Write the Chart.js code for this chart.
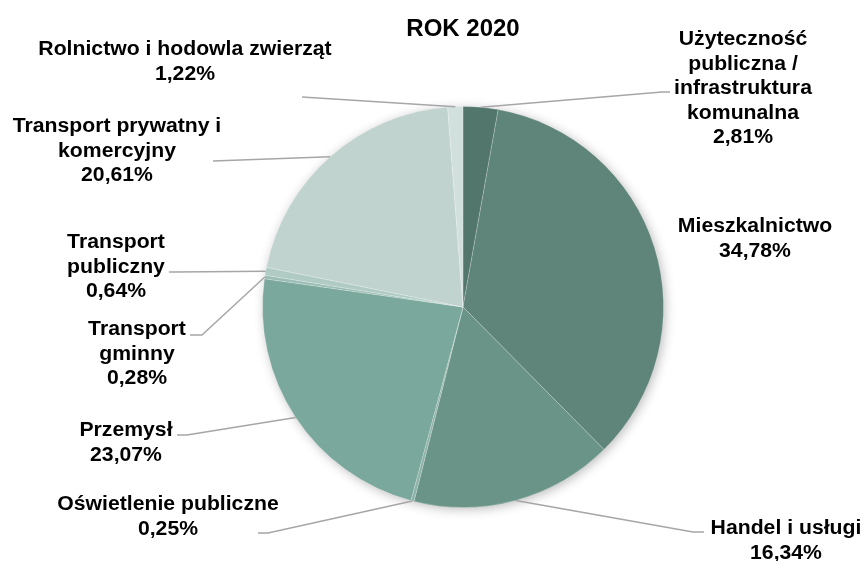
<!DOCTYPE html>
<html>
<head>
<meta charset="utf-8">
<script src="https://cdn.jsdelivr.net/npm/chart.js@4/dist/chart.umd.min.js"></script>
<style>
  body { margin: 0; background: #fff; }
  canvas { display: block; }
</style>
</head>
<body>
<canvas id="pie" width="863" height="561"></canvas>
<script>
// Data, clockwise from the top
var categories = [
    'Użyteczność publiczna / infrastruktura komunalna',
    'Mieszkalnictwo',
    'Handel i usługi',
    'Oświetlenie publiczne',
    'Przemysł',
    'Transport gminny',
    'Transport publiczny',
    'Transport prywatny i komercyjny',
    'Rolnictwo i hodowla zwierząt'
];
var shares = [2.81, 34.78, 16.34, 0.25, 23.07, 0.28, 0.64, 20.61, 1.22];
var sliceColors = ['#52766c', '#5f8479', '#6a9487', '#8cb1a6', '#7ba89c', '#9bbdb3', '#afcbc4', '#c1d3cf', '#d2e0dd'];

// How each label is broken into lines in the picture
var labelLines = [
    ['Użyteczność', 'publiczna /', 'infrastruktura', 'komunalna'],
    ['Mieszkalnictwo'],
    ['Handel i usługi'],
    ['Oświetlenie publiczne'],
    ['Przemysł'],
    ['Transport', 'gminny'],
    ['Transport', 'publiczny'],
    ['Transport prywatny i', 'komercyjny'],
    ['Rolnictwo i hodowla zwierząt']
];

// Label placement (text centre x, first baseline y) and leader bends
var labelPlaces = [
    { x: 743, y: 45, leader: [[662, 92], [670, 92]] },
    { x: 755, y: 232, leader: null },
    { x: 786, y: 534, leader: [[693, 532], [704, 532]] },
    { x: 168, y: 510, leader: [[268, 533], [258, 533]] },
    { x: 126, y: 436, leader: [[187, 435], [177, 435]] },
    { x: 137, y: 335, leader: [[202, 335], [190, 335]] },
    { x: 116, y: 248, leader: [[175, 272], [169, 272]] },
    { x: 117, y: 132, leader: [[213, 161], [213, 161]] },
    { x: 185, y: 55, leader: [[302, 97], [302, 97]] }
];

function pct(v) {
    return v.toFixed(2).replace('.', ',') + '%';
}

var pieLabels = {
    id: 'pieLabels',
    beforeDatasetsDraw: function (chart) {
        // soft shadow under the pie
        var arc = chart.getDatasetMeta(0).data[0];
        var c = chart.ctx;
        c.save();
        c.shadowColor = 'rgba(0,0,0,0.3)';
        c.shadowBlur = 12;
        c.shadowOffsetX = 2;
        c.shadowOffsetY = 2;
        c.fillStyle = '#fff';
        c.beginPath();
        c.arc(arc.x, arc.y, arc.outerRadius - 1, 0, Math.PI * 2);
        c.fill();
        c.restore();
    },
    afterDatasetsDraw: function (chart) {
        var c = chart.ctx;
        var arcs = chart.getDatasetMeta(0).data;
        c.save();
        // title
        c.fillStyle = '#000';
        c.textAlign = 'center';
        c.font = 'bold 24px "Liberation Sans", Arial, sans-serif';
        c.fillText('ROK 2020', 463, 36);

        // leader lines
        c.strokeStyle = '#a6a6a6';
        c.lineWidth = 1.5;
        arcs.forEach(function (a, i) {
            var place = labelPlaces[i];
            if (!place.leader) return;
            var mid = (a.startAngle + a.endAngle) / 2;
            c.beginPath();
            c.moveTo(a.x + Math.cos(mid) * a.outerRadius, a.y + Math.sin(mid) * a.outerRadius);
            place.leader.forEach(function (p) { c.lineTo(p[0], p[1]); });
            c.stroke();
        });

        // labels
        c.font = 'bold 20px "Liberation Sans", Arial, sans-serif';
        c.fillStyle = '#000';
        labelLines.forEach(function (lines, i) {
            var place = labelPlaces[i];
            var all = lines.concat([pct(shares[i])]);
            all.forEach(function (txt, k) {
                c.save();
                c.translate(place.x, place.y + k * 24.5);
                c.scale(1.06, 1);
                c.fillText(txt, 0, 0);
                c.restore();
            });
        });
        c.restore();
    }
};

var chart = new Chart(document.getElementById('pie'), {
    type: 'pie',
    data: {
        labels: categories,
        datasets: [{
            data: shares,
            backgroundColor: sliceColors,
            borderColor: 'rgba(255,255,255,0.2)',
            borderWidth: 1
        }]
    },
    options: {
        responsive: false,
        animation: false,
        layout: { padding: { top: 106, bottom: 53, left: 262, right: 199 } },
        plugins: {
            legend: { display: false },
            title: { display: false },
            tooltip: { enabled: false }
        }
    },
    plugins: [pieLabels]
});
</script>
</body>
</html>
